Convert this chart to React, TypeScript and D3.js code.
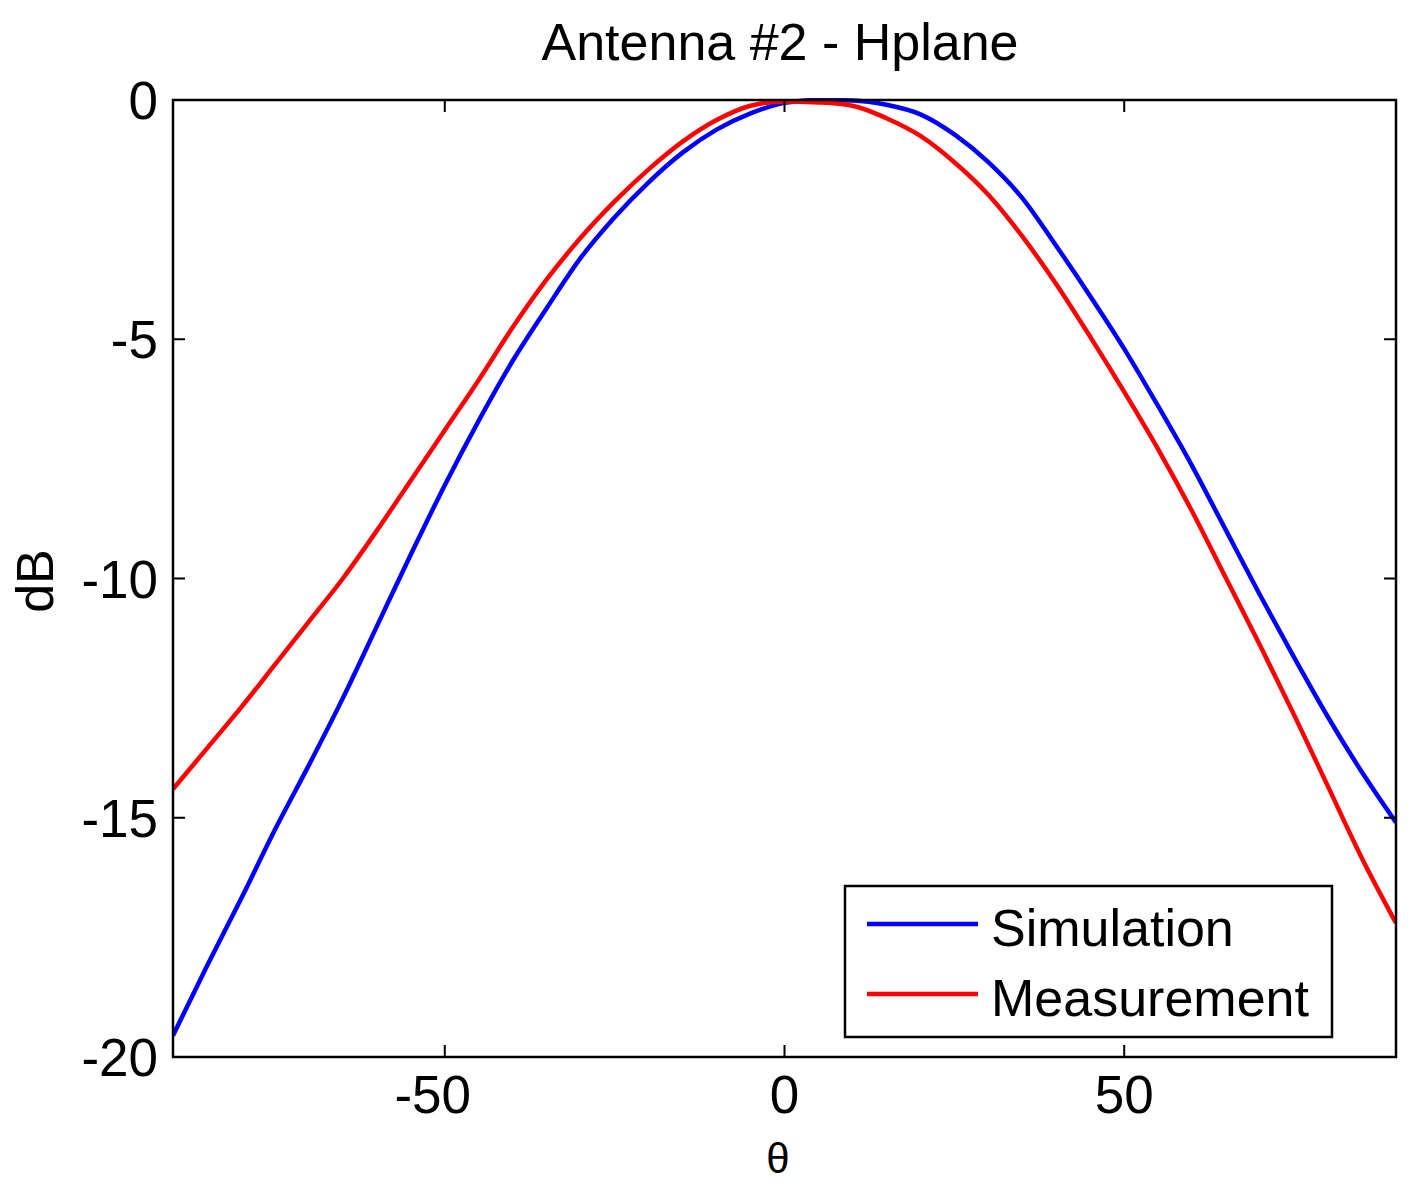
import React from "react";
import * as d3 from "d3";

const title = "Antenna #2 - Hplane";
const xLabel = "θ";
const yLabel = "dB";
const xTicks = [-50, 0, 50];
const yTicks = [0, -5, -10, -15, -20];
const seriesNames = ["Simulation", "Measurement"];
const seriesColors = ["#0000ff", "#ff0000"];

const theta = [-90, -85, -80, -75, -70, -65, -60, -55, -50, -45, -40, -35, -30, -25, -20, -15, -10, -5, 0, 5, 10, 15, 20, 25, 30, 35, 40, 45, 50, 55, 60, 65, 70, 75, 80, 85, 90];

const simulation = [-19.55, -18.1, -16.7, -15.25, -13.9, -12.5, -11.0, -9.5, -8.05, -6.7, -5.45, -4.35, -3.3, -2.45, -1.72, -1.1, -0.62, -0.28, -0.06, 0, -0.01, -0.1, -0.3, -0.72, -1.3, -2.05, -3.05, -4.1, -5.2, -6.4, -7.65, -9.0, -10.35, -11.65, -12.9, -14.05, -15.1];

const measurement = [-14.4, -13.55, -12.7, -11.8, -10.9, -10.0, -9.0, -7.95, -6.9, -5.85, -4.75, -3.75, -2.88, -2.12, -1.45, -0.87, -0.42, -0.12, -0.03, -0.05, -0.12, -0.38, -0.75, -1.3, -1.98, -2.85, -3.85, -4.95, -6.1, -7.3, -8.6, -10.0, -11.4, -12.85, -14.35, -15.85, -17.2];

const W = 1413;
const H = 1190;
const left = 173;
const right = 1396;
const top = 100;
const bottom = 1057;
const font = "'Liberation Sans', Arial, Helvetica, sans-serif";

export default function App() {
  const x = d3.scaleLinear().domain([-90, 90]).range([left, right]);
  const y = d3.scaleLinear().domain([-20, 0]).range([bottom, top]);
  const series = [simulation, measurement];
  const line = d3
    .line<number>()
    .x((_, i) => x(theta[i]))
    .y((d) => y(d))
    .curve(d3.curveMonotoneX);
  const tickLen = 12;

  return (
    <svg
      width={W}
      height={H}
      style={{ position: "absolute", left: 0, top: 0, background: "#fff" }}
      fontFamily={font}
    >
      <rect x={0} y={0} width={W} height={H} fill="#fff" />
      <defs>
        <clipPath id="plotclip">
          <rect x={left} y={top - 2} width={right - left} height={bottom - top + 2} />
        </clipPath>
      </defs>
      <g clipPath="url(#plotclip)">
        {series.map((s, k) => (
          <path key={k} d={line(s) || ""} fill="none" stroke={seriesColors[k]} strokeWidth={4.5} strokeLinejoin="round" />
        ))}
      </g>
      <rect x={left} y={top} width={right - left} height={bottom - top} fill="none" stroke="#000" strokeWidth={2.5} />
      {xTicks.map((t) => (
        <g key={"xt" + t}>
          <line x1={x(t)} x2={x(t)} y1={bottom} y2={bottom - tickLen} stroke="#000" strokeWidth={2} />
          <line x1={x(t)} x2={x(t)} y1={top} y2={top + tickLen} stroke="#000" strokeWidth={2} />
          <text x={x(t)} dx={t < 0 ? -12 : 0} y={1113} fontSize={53} textAnchor="middle" fill="#000">
            {t}
          </text>
        </g>
      ))}
      {yTicks.map((t) => (
        <g key={"yt" + t}>
          <line x1={left} x2={left + tickLen} y1={y(t)} y2={y(t)} stroke="#000" strokeWidth={2} />
          <line x1={right} x2={right - tickLen} y1={y(t)} y2={y(t)} stroke="#000" strokeWidth={2} />
          <text x={158} y={y(t) + 19} fontSize={53} textAnchor="end" fill="#000">
            {t}
          </text>
        </g>
      ))}
      <text x={780} y={60} fontSize={52} textAnchor="middle" fill="#000">
        {title}
      </text>
      <text x={778} y={1173} fontSize={42} textAnchor="middle" fill="#000">
        {xLabel}
      </text>
      <text transform={`translate(53, 581) rotate(-90)`} fontSize={52} textAnchor="middle" fill="#000">
        {yLabel}
      </text>
      <rect x={845} y={886} width={487} height={151} fill="#fff" stroke="#000" strokeWidth={2.5} />
      {seriesNames.map((n, k) => (
        <g key={n}>
          <line x1={867} x2={978} y1={924 + k * 70} y2={924 + k * 70} stroke={seriesColors[k]} strokeWidth={4.5} />
          <text x={991} y={946 + k * 70} fontSize={52} fill="#000">
            {n}
          </text>
        </g>
      ))}
    </svg>
  );
}
